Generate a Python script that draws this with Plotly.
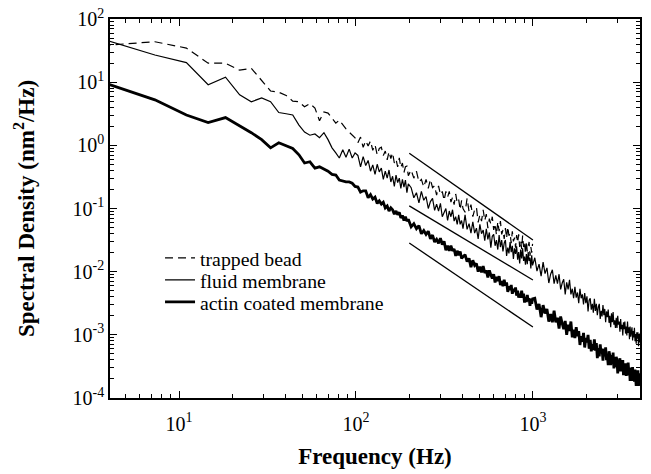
import math
import plotly.graph_objects as go

# ---------------- data ----------------
# frequency bins (Hz)
freq_low = [3.7, 7.3, 11.0, 14.6, 18.3, 22.0, 25.6, 29.3, 32.9, 36.6, 40.3, 43.9, 47.6, 51.2,
            54.9, 58.6, 62.2, 65.9, 69.5, 73.2, 76.9, 80.5, 84.2, 87.8, 91.5, 95.2, 98.8]
freq_b = [102.5, 106.1, 109.8, 113.5, 117.1, 120.8, 124.4, 128.1, 131.8, 135.4, 139.1, 142.7,
          146.4, 150.1, 153.7, 157.4, 161.0, 164.7, 168.4, 172.0, 175.7, 179.3, 183.0, 186.7,
          190.3, 194.0, 197.6]
freq_c = [205.0, 212.3, 219.6, 226.9, 234.2, 241.6, 248.9, 256.2, 263.5, 270.8, 278.2, 285.5,
          292.8, 300.1, 307.4, 314.8, 322.1, 329.4, 336.7, 344.0, 351.4, 358.7, 366.0, 373.3,
          380.6, 388.0, 395.3, 402.6]
freq_d = [413.6, 424.6, 435.6, 446.5, 457.5, 468.5, 479.5, 490.4, 501.4, 512.4, 523.4, 534.4,
          545.3, 556.3, 567.3, 578.3, 589.3, 600.2, 611.2, 622.2, 633.2, 644.2, 655.1, 666.1,
          677.1, 688.1, 699.1, 710.0, 721.0, 732.0, 743.0, 754.0, 764.9, 775.9, 786.9, 797.9,
          808.9, 819.8, 830.8, 841.8, 852.8, 863.8, 874.7, 885.7, 896.7, 907.7, 918.7, 929.6,
          940.6, 951.6, 962.6, 973.6, 984.5, 995.5]
freq_e = [1024.8, 1054.1, 1083.4, 1112.6, 1141.9, 1171.2, 1200.5, 1229.8, 1259.0, 1288.3,
          1317.6, 1346.9, 1376.2, 1405.4, 1434.7, 1464.0, 1493.3, 1522.6, 1551.8, 1581.1,
          1610.4, 1639.7, 1669.0, 1698.2, 1727.5, 1756.8, 1786.1, 1815.4, 1844.6, 1873.9,
          1903.2, 1932.5, 1961.8, 1991.0, 2020.3, 2049.6, 2078.9, 2108.2, 2137.4, 2166.7,
          2196.0, 2225.3, 2254.6, 2283.8, 2313.1, 2342.4, 2371.7, 2401.0, 2430.2, 2459.5,
          2488.8, 2518.1, 2547.4, 2576.6, 2605.9, 2635.2, 2664.5, 2693.8, 2723.0, 2752.3,
          2781.6, 2810.9, 2840.2, 2869.4, 2898.7, 2928.0, 2957.3, 2986.6, 3015.8, 3045.1,
          3074.4, 3103.7, 3133.0, 3162.2, 3191.5, 3220.8, 3250.1, 3279.4, 3308.6, 3337.9,
          3367.2, 3396.5, 3425.8, 3455.0, 3484.3, 3513.6, 3542.9, 3572.2, 3601.4, 3630.7,
          3660.0, 3689.3, 3718.6, 3747.8, 3777.1, 3806.4, 3835.7, 3865.0, 3894.2, 3923.5,
          3952.8, 3982.1, 4011.4, 4040.6]

# log10 of spectral density (nm^2/Hz)
trapped_log_low = [1.58, 1.64, 1.54, 1.30, 1.30, 1.19, 1.22, 1.03, 0.86, 0.84, 0.79, 0.70, 0.69,
                   0.61, 0.66, 0.59, 0.39, 0.53, 0.51, 0.43, 0.35, 0.40, 0.32, 0.26, 0.21, 0.16, 0.12]
trapped_log_b = [0.04, 0.13, -0.03, 0.07, -0.01, 0.07, -0.08, 0.01, -0.15, -0.05, -0.03, -0.16,
                 -0.09, -0.23, -0.10, -0.21, -0.12, -0.28, -0.22, -0.34, -0.20, -0.35, -0.28,
                 -0.43, -0.34, -0.33, -0.48]
trapped_log_c = [-0.39, -0.52, -0.41, -0.58, -0.54, -0.66, -0.54, -0.68, -0.54, -0.67, -0.64,
                 -0.79, -0.64, -0.78, -0.73, -0.87, -0.73, -0.82, -0.73, -0.90, -0.82, -0.94,
                 -0.77, -0.91, -0.86, -1.02, -0.87, -1.00]
trapped_log_d = [-1.06, -0.84, -1.05, -0.94, -1.13, -1.02, -0.98, -1.22, -1.10, -1.20, -1.02,
                 -1.19, -1.09, -1.31, -1.16, -1.25, -1.13, -1.34, -1.24, -1.42, -1.21, -1.36,
                 -1.20, -1.41, -1.34, -1.48, -1.31, -1.47, -1.29, -1.43, -1.39, -1.55, -1.36,
                 -1.52, -1.46, -1.62, -1.42, -1.54, -1.41, -1.61, -1.51, -1.64, -1.43, -1.61,
                 -1.53, -1.72, -1.52, -1.68, -1.62, -1.53, -1.75, -1.61, -1.70, -1.56]

fluid_log_low = [1.68, 1.43, 1.31, 0.96, 1.08, 0.80, 0.69, 0.75, 0.69, 0.52, 0.50, 0.48, 0.32,
                 0.21, 0.16, 0.18, 0.12, 0.20, 0.09, -0.04, -0.12, -0.20, -0.07, -0.19, -0.06,
                 -0.20, -0.12]
fluid_log_b = [-0.16, -0.34, -0.18, -0.32, -0.24, -0.41, -0.31, -0.46, -0.30, -0.42, -0.36,
               -0.54, -0.41, -0.52, -0.39, -0.58, -0.49, -0.65, -0.47, -0.59, -0.52, -0.68,
               -0.54, -0.66, -0.55, -0.75, -0.61]
fluid_log_c = [-0.67, -0.83, -0.75, -0.91, -0.73, -0.87, -0.81, -1.00, -0.89, -0.84, -1.03,
               -0.93, -1.04, -0.92, -1.13, -1.05, -1.00, -1.19, -1.04, -1.13, -1.02, -1.20,
               -1.13, -1.25, -1.10, -1.25, -1.19, -1.32]
fluid_log_d = [-1.10, -1.33, -1.24, -1.39, -1.21, -1.39, -1.31, -1.48, -1.25, -1.40, -1.34,
               -1.51, -1.32, -1.49, -1.38, -1.62, -1.44, -1.41, -1.59, -1.50, -1.65, -1.42,
               -1.61, -1.50, -1.68, -1.55, -1.50, -1.75, -1.62, -1.71, -1.53, -1.69, -1.59,
               -1.80, -1.63, -1.72, -1.60, -1.81, -1.69, -1.87, -1.65, -1.79, -1.63, -1.83,
               -1.76, -1.89, -1.72, -1.88, -1.69, -1.83, -1.78, -1.95, -1.74, -1.90]
fluid_log_e = [-1.78, -1.99, -1.88, -2.07, -1.85, -2.03, -1.94, -2.18, -2.04, -1.97, -2.19,
               -2.06, -2.19, -2.04, -2.28, -2.18, -2.12, -2.36, -2.17, -2.28, -2.13, -2.36,
               -2.27, -2.42, -2.24, -2.41, -2.33, -2.50, -2.27, -2.42, -2.36, -2.52, -2.34,
               -2.50, -2.39, -2.63, -2.45, -2.42, -2.60, -2.51, -2.65, -2.43, -2.62, -2.51,
               -2.69, -2.56, -2.51, -2.75, -2.62, -2.71, -2.53, -2.69, -2.59, -2.80, -2.63,
               -2.72, -2.60, -2.81, -2.70, -2.88, -2.66, -2.80, -2.64, -2.84, -2.77, -2.89,
               -2.73, -2.89, -2.70, -2.84, -2.79, -2.95, -2.75, -2.91, -2.84, -3.01, -2.80,
               -2.91, -2.79, -2.98, -2.87, -3.01, -2.79, -2.97, -2.88, -3.07, -2.87, -3.03,
               -2.96, -2.88, -3.09, -2.94, -3.04, -2.89, -3.10, -2.99, -3.14, -2.96, -3.06,
               -2.96, -3.18, -3.00, -3.12, -2.97]

actin_log_low = [1.00, 0.72, 0.48, 0.36, 0.44, 0.31, 0.20, 0.09, -0.04, 0.04, -0.01, -0.05,
                 -0.15, -0.28, -0.26, -0.36, -0.34, -0.38, -0.41, -0.46, -0.47, -0.55, -0.57,
                 -0.58, -0.58, -0.60, -0.65]
actin_log_b = [-0.66, -0.74, -0.72, -0.72, -0.83, -0.78, -0.85, -0.82, -0.92, -0.88, -0.93,
               -0.90, -0.99, -0.96, -1.04, -0.99, -1.02, -1.09, -1.04, -1.10, -1.06, -1.15,
               -1.11, -1.19, -1.13, -1.20, -1.17]
actin_log_c = [-1.29, -1.24, -1.32, -1.27, -1.40, -1.35, -1.41, -1.36, -1.48, -1.42, -1.53,
               -1.49, -1.55, -1.47, -1.57, -1.52, -1.66, -1.59, -1.67, -1.59, -1.67, -1.64,
               -1.75, -1.67, -1.74, -1.68, -1.79, -1.76]
actin_log_d = [-1.73, -1.84, -1.79, -1.93, -1.82, -1.90, -1.87, -2.00, -1.92, -2.01, -1.91,
               -2.02, -1.98, -2.09, -1.98, -2.05, -2.11, -2.04, -2.17, -2.08, -2.15, -2.07,
               -2.21, -2.15, -2.23, -2.13, -2.22, -2.17, -2.32, -2.23, -2.29, -2.21, -2.35,
               -2.27, -2.32, -2.25, -2.38, -2.30, -2.41, -2.35, -2.41, -2.30, -2.41, -2.35,
               -2.49, -2.40, -2.48, -2.37, -2.46, -2.42, -2.54, -2.43, -2.51, -2.43]
actin_log_e = [-2.42, -2.60, -2.51, -2.72, -2.53, -2.66, -2.59, -2.79, -2.67, -2.80, -2.62,
               -2.80, -2.73, -2.90, -2.71, -2.82, -2.91, -2.78, -3.00, -2.84, -2.94, -2.79,
               -3.04, -2.92, -3.05, -2.88, -3.02, -2.94, -3.16, -3.02, -3.11, -2.97, -3.20,
               -3.05, -3.12, -3.00, -3.22, -3.08, -3.26, -3.15, -3.24, -3.07, -3.25, -3.13,
               -3.37, -3.21, -3.34, -3.15, -3.29, -3.22, -3.41, -3.22, -3.34, -3.20, -3.40,
               -3.33, -3.48, -3.26, -3.33, -3.48, -3.32, -3.45, -3.28, -3.53, -3.41, -3.51,
               -3.35, -3.40, -3.61, -3.39, -3.52, -3.37, -3.58, -3.44, -3.52, -3.40, -3.64,
               -3.50, -3.60, -3.45, -3.65, -3.52, -3.64, -3.44, -3.60, -3.52, -3.73, -3.52,
               -3.60, -3.73, -3.51, -3.68, -3.58, -3.74, -3.55, -3.64, -3.81, -3.59, -3.71,
               -3.56, -3.81, -3.65, -3.79, -3.61]

# slope guide lines (Hz, nm^2/Hz)
guide_freq = [200, 1000]
guide_upper = [0.747, 0.0318]
guide_middle = [0.110, 0.00738]
guide_lower = [0.0284, 0.00133]

series_names = ["trapped bead", "fluid membrane", "actin coated membrane"]
x_tick_vals = [10, 100, 1000]
x_tick_text = ["10<sup>1</sup>", "10<sup>2</sup>", "10<sup>3</sup>"]
y_tick_vals = [1e-4, 1e-3, 1e-2, 1e-1, 1, 10, 100]
y_tick_text = ["10<sup>-4</sup>", "10<sup>-3</sup>", "10<sup>-2</sup>", "10<sup>-1</sup>",
               "10<sup>0</sup>", "10<sup>1</sup>", "10<sup>2</sup>"]

# ---------------- assemble ----------------
freq_trapped = freq_low + freq_b + freq_c + freq_d
freq_full = freq_trapped + freq_e
trapped_log = trapped_log_low + trapped_log_b + trapped_log_c + trapped_log_d
fluid_log = fluid_log_low + fluid_log_b + fluid_log_c + fluid_log_d + fluid_log_e
actin_log = actin_log_low + actin_log_b + actin_log_c + actin_log_d + actin_log_e
assert len(freq_trapped) == len(trapped_log), (len(freq_trapped), len(trapped_log))
assert len(freq_full) == len(fluid_log), (len(freq_full), len(fluid_log))
assert len(freq_full) == len(actin_log), (len(freq_full), len(actin_log))


def to_psd(logs):
    return [10 ** v for v in logs]


FONT = "Liberation Serif, Times New Roman, serif"
fig = go.Figure()

for gy in (guide_upper, guide_middle, guide_lower):
    fig.add_trace(go.Scatter(x=guide_freq, y=gy, mode="lines", showlegend=False,
                             hoverinfo="skip", line=dict(color="black", width=1.3)))

fig.add_trace(go.Scatter(x=freq_trapped, y=to_psd(trapped_log), mode="lines",
                         name=series_names[0], legend="legend",
                         line=dict(color="black", width=1.2, dash="8px,5px")))
fig.add_trace(go.Scatter(x=freq_full, y=to_psd(fluid_log), mode="lines",
                         name=series_names[1], legend="legend2",
                         line=dict(color="black", width=1.2)))
fig.add_trace(go.Scatter(x=freq_full, y=to_psd(actin_log), mode="lines",
                         name=series_names[2], legend="legend3",
                         line=dict(color="black", width=2.8)))

minor_x = [m * 10 ** e for e in range(0, 4) for m in range(2, 10) if 4.07 < m * 10 ** e < 4030]
minor_y = [m * 10.0 ** e for e in range(-4, 2) for m in range(2, 10)]

axis_common = dict(
    showgrid=False, zeroline=False, showline=True, linecolor="black", linewidth=1.5,
    mirror="allticks", ticks="inside", ticklen=7, tickwidth=1.2, tickcolor="black",
    tickfont=dict(family=FONT, size=20, color="black"), automargin=False,
)

fig.update_xaxes(
    type="log", range=[math.log10(4.07), math.log10(4030)],
    tickmode="array", tickvals=x_tick_vals, ticktext=x_tick_text,
    ticklabelstandoff=7,
    minor=dict(tickmode="array", tickvals=minor_x, ticks="inside", ticklen=4,
               tickwidth=1, tickcolor="black", showgrid=False),
    title=dict(text="<b>Frequency (Hz)</b>", font=dict(family=FONT, size=23), standoff=14),
    **axis_common,
)
fig.update_yaxes(
    type="log", range=[-4, 2],
    tickmode="array", tickvals=y_tick_vals, ticktext=y_tick_text,
    minor=dict(tickmode="array", tickvals=minor_y, ticks="inside", ticklen=4,
               tickwidth=1, tickcolor="black", showgrid=False),
    title=dict(text="<b>Spectral Density (nm<sup>2</sup>/Hz)</b>",
               font=dict(family=FONT, size=23), standoff=32),
    **axis_common,
)

leg_common = dict(x=0.0944, xanchor="left", yanchor="middle", bgcolor="rgba(0,0,0,0)",
                  borderwidth=0, font=dict(family=FONT, size=19.8, color="black"))

fig.update_layout(
    width=651, height=474,
    margin=dict(l=110, r=11, t=19, b=76, autoexpand=False),
    paper_bgcolor="white", plot_bgcolor="white",
    font=dict(family=FONT, color="black", size=19),
    showlegend=True,
    legend=dict(y=0.3694, **leg_common),
    legend2=dict(y=0.3113, **leg_common),
    legend3=dict(y=0.2533, **leg_common),
)

fig.write_html(
    "out.html",
    config={"displayModeBar": False},
    post_script="document.body.style.margin='0px';document.body.style.overflow='hidden';",
)
